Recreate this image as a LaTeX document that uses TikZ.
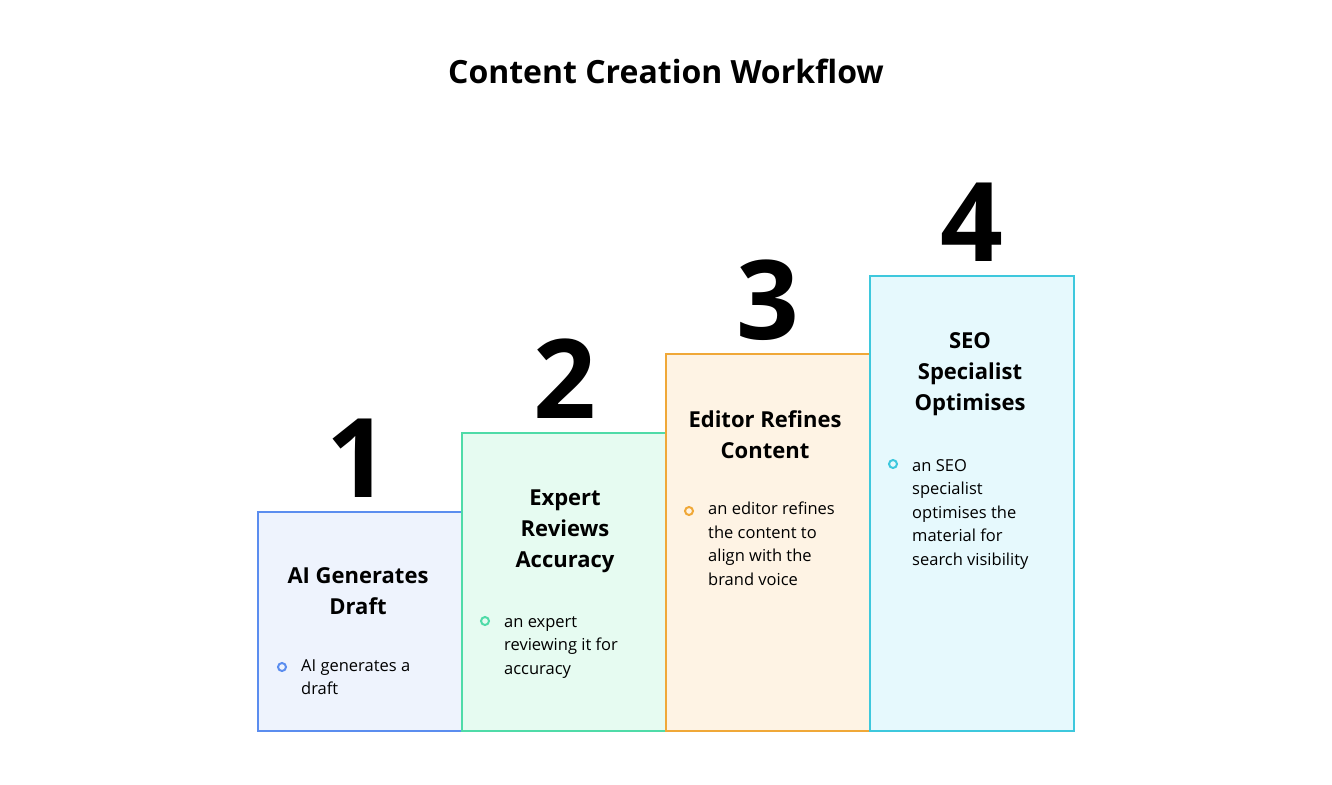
\documentclass[tikz,border=0pt]{standalone}
\usepackage{fontspec}
\setmainfont{Open Sans}
\definecolor{c1}{HTML}{5B8DEF}\definecolor{f1}{HTML}{EEF3FD}
\definecolor{c2}{HTML}{4FDBA8}\definecolor{f2}{HTML}{E6FBF1}
\definecolor{c3}{HTML}{F0A838}\definecolor{f3}{HTML}{FEF3E4}
\definecolor{c4}{HTML}{3EC8DD}\definecolor{f4}{HTML}{E6F9FD}
\tikzset{
 stepttl/.style={font=\bfseries\fontsize{22}{31}\selectfont,align=center,anchor=north},
 stepnum/.style={font=\bfseries\fontsize{110}{110}\selectfont,anchor=base},
 steptxt/.style={font=\fontsize{16.5}{23.5}\selectfont,align=left,anchor=north west,inner sep=0pt},
 ring/.style={draw=#1,line width=2pt,circle,minimum size=8pt,inner sep=0pt}
}
\begin{document}
\begin{tikzpicture}[x=1pt,y=-1pt]
\useasboundingbox (0,0) rectangle (1332,784);
\node[font=\bfseries\fontsize{32}{38}\selectfont] (t) at (666,71) {Content Creation Workflow};
\draw[c1,fill=f1,line width=1.5pt] (258,512) rectangle (462,731);
\draw[c2,fill=f2,line width=1.5pt] (462,433) rectangle (666,731);
\draw[c3,fill=f3,line width=1.5pt] (666,354) rectangle (870,731);
\draw[c4,fill=f4,line width=1.5pt] (870,276) rectangle (1074,731);
\node[stepnum] (n1) at (358,497) {1};
\node[stepnum] (n2) at (565,418) {2};
\node[stepnum] (n3) at (768,339) {3};
\node[stepnum] (n4) at (972,261) {4};
\node[stepttl] (h1) at (358,564) {AI Generates\\Draft};
\node[stepttl] (h2) at (565,486) {Expert\\Reviews\\Accuracy};
\node[stepttl] (h3) at (765,407) {Editor Refines\\Content};
\node[stepttl] (h4) at (970,329) {SEO\\Specialist\\Optimises};
\node[ring=c1] (b1) at (282,667) {};
\node[ring=c2] (b2) at (485,621) {};
\node[ring=c3] (b3) at (689,511) {};
\node[ring=c4] (b4) at (893,464) {};
\node[steptxt] (d1) at (301,659) {AI generates a\\draft};
\node[steptxt] (d2) at (504,616) {an expert\\reviewing it for\\accuracy};
\node[steptxt] (d3) at (708,502) {an editor refines\\the content to\\align with the\\brand voice};
\node[steptxt] (d4) at (912,459) {an SEO\\specialist\\optimises the\\material for\\search visibility};
\end{tikzpicture}
\end{document}
